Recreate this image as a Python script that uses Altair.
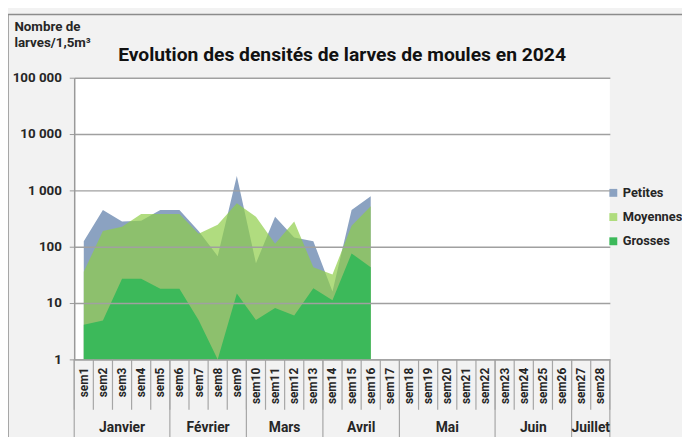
import altair as alt
import pandas as pd

weeks = ["sem1", "sem2", "sem3", "sem4", "sem5", "sem6", "sem7", "sem8", "sem9", "sem10",
         "sem11", "sem12", "sem13", "sem14", "sem15", "sem16", "sem17", "sem18", "sem19", "sem20",
         "sem21", "sem22", "sem23", "sem24", "sem25", "sem26", "sem27", "sem28"]
months = ["Janvier", "Février", "Mars", "Avril", "Mai", "Juin", "Juillet"]
month_lengths = [5, 4, 4, 4, 5, 4, 2]
series = ["Petites", "Moyennes", "Grosses"]

petites = [125, 450, 280, 290, 450, 450, 190, 68, 1800, 51, 340, 145, 125, 16, 450, 790]
moyennes = [36, 190, 225, 380, 380, 380, 170, 245, 590, 340, 113, 280, 43, 32, 235, 525]
grosses = [4.1, 4.9, 27, 27, 18, 18, 5.0, 1, 14.7, 5, 8.2, 6, 18.4, 11.2, 76, 43]
y_ticks = [1, 10, 100, 1000, 10000, 100000]

FONT = "Roboto"
C_PET = "#8ba2c1"
C_MOY = "#8ecd48"
C_MOY_LEG = "#afdc7d"
C_GRO = "#3cb95a"
GRID = "#a0a0a0"

n_obs = len(petites)
df = pd.DataFrame({"week": weeks[:n_obs], "Petites": petites,
                   "Moyennes": moyennes, "Grosses": grosses})
long = df.melt("week", var_name="series", value_name="value")

bounds = [0]
for n in month_lengths:
    bounds.append(bounds[-1] + n)
month_df = pd.DataFrame({"month": months, "start": bounds[:-1], "end": bounds[1:]})
month_df["center"] = (month_df["start"] + month_df["end"]) / 2
month_sep = pd.DataFrame({"b": bounds})
week_sep = pd.DataFrame({"b": list(range(len(weeks) + 1))})

W, H = 542, 285

x_scale = alt.Scale(type="band", domain=weeks, paddingInner=0, paddingOuter=0)
x_axis = alt.Axis(title=None, labelAngle=-90, ticks=False, labelPadding=8,
                  labelFont=FONT, labelFontWeight="bold", labelFontSize=12,
                  labelColor="#262626", domainColor="#999999", domainWidth=1.5,
                  grid=False, labelBound=False)
y_scale = alt.Scale(type="log", domain=[1, 100000])
y_axis = alt.Axis(values=y_ticks,
                  labelExpr="replace(format(datum.value, ','), ',', ' ')",
                  labelFont=FONT, labelFontWeight="bold", labelFontSize=13.5,
                  labelColor="#262626", tickSize=5, tickColor="#999999",
                  labelPadding=8, domainColor="#999999", domainWidth=1.5,
                  gridColor=GRID, gridWidth=1.5, zindex=1,
                  title=["Nombre de", "larves/1,5m³"], titleAngle=0,
                  titleAlign="left", titleBaseline="top", titleX=-61, titleY=-59,
                  titleFont=FONT, titleFontWeight="bold", titleFontSize=13.5,
                  titleColor="#262626", titleLineHeight=16.5)

color = alt.Color("series:N",
                  scale=alt.Scale(domain=series, range=[C_PET, C_MOY_LEG, C_GRO]),
                  legend=alt.Legend(title=None, orient="none", legendX=539, legendY=110,
                                    symbolType="square", symbolSize=64,
                                    symbolStrokeWidth=0, labelFont=FONT,
                                    labelFontWeight="bold", labelFontSize=13,
                                    labelColor="#262626", rowPadding=10.5,
                                    labelOffset=3, labelLimit=200))

base = alt.Chart(long)

pet = base.transform_filter(alt.datum.series == "Petites").mark_area().encode(
    x=alt.X("week:N", scale=x_scale, axis=x_axis, bandPosition=0.5),
    y=alt.Y("value:Q", scale=y_scale, axis=y_axis),
    y2=alt.datum(1),
    color=color,
)
moy = base.transform_filter(alt.datum.series == "Moyennes").mark_area(
    color=C_MOY, opacity=0.7).encode(
    x=alt.X("week:N", scale=x_scale, axis=x_axis, bandPosition=0.5),
    y=alt.Y("value:Q", scale=y_scale, axis=y_axis),
    y2=alt.datum(1),
)
gro = base.transform_filter(alt.datum.series == "Grosses").mark_area().encode(
    x=alt.X("week:N", scale=x_scale, axis=x_axis, bandPosition=0.5),
    y=alt.Y("value:Q", scale=y_scale, axis=y_axis),
    y2=alt.datum(1),
    color=color,
)
areas = alt.layer(pet, moy, gro)

q_scale = alt.Scale(domain=[0, len(weeks)], nice=False, zero=False)

week_rules = alt.Chart(week_sep).mark_rule(color="#a6a6a6", strokeWidth=1.2).encode(
    x=alt.X("b:Q", scale=q_scale, axis=None),
    y=alt.value(H), y2=alt.value(H + 51),
)
month_rules = alt.Chart(month_sep).mark_rule(color="#a6a6a6", strokeWidth=1.2).encode(
    x=alt.X("b:Q", scale=q_scale, axis=None),
    y=alt.value(H), y2=alt.value(H + 80),
)
month_text = alt.Chart(month_df).mark_text(
    font=FONT, fontWeight="bold", fontSize=14, color="#262626", baseline="middle").encode(
    x=alt.X("center:Q", scale=q_scale, axis=None),
    y=alt.value(H + 69),
    text="month:N",
)
frame_df = pd.DataFrame({"k": [0]})
frame_top = alt.Chart(frame_df).mark_rule(color="#8c8c8c", strokeWidth=1.5).encode(
    x=alt.value(-67), x2=alt.value(W + 80), y=alt.value(-64))
frame_left = alt.Chart(frame_df).mark_rule(color="#8c8c8c", strokeWidth=1.5).encode(
    x=alt.value(-67), y=alt.value(-64), y2=alt.value(H + 90))

decor = alt.layer(week_rules, month_rules, month_text, frame_top, frame_left)

chart = alt.layer(areas, decor).resolve_scale(x="independent").properties(
    width=W, height=H,
    autosize="none",
    padding={"left": 67, "top": 68, "right": 73, "bottom": 76},
    background="#f2f2f2",
    title=alt.Title("Evolution des densités de larves de moules en 2024",
                    font=FONT, fontSize=19.5, fontWeight="bold", color="#111111",
                    anchor="middle", offset=10, dy=77, baseline="alphabetic"),
).configure_view(fill="white", stroke=None)

chart.save("out.html", embed_options={"renderer": "svg", "actions": False})
